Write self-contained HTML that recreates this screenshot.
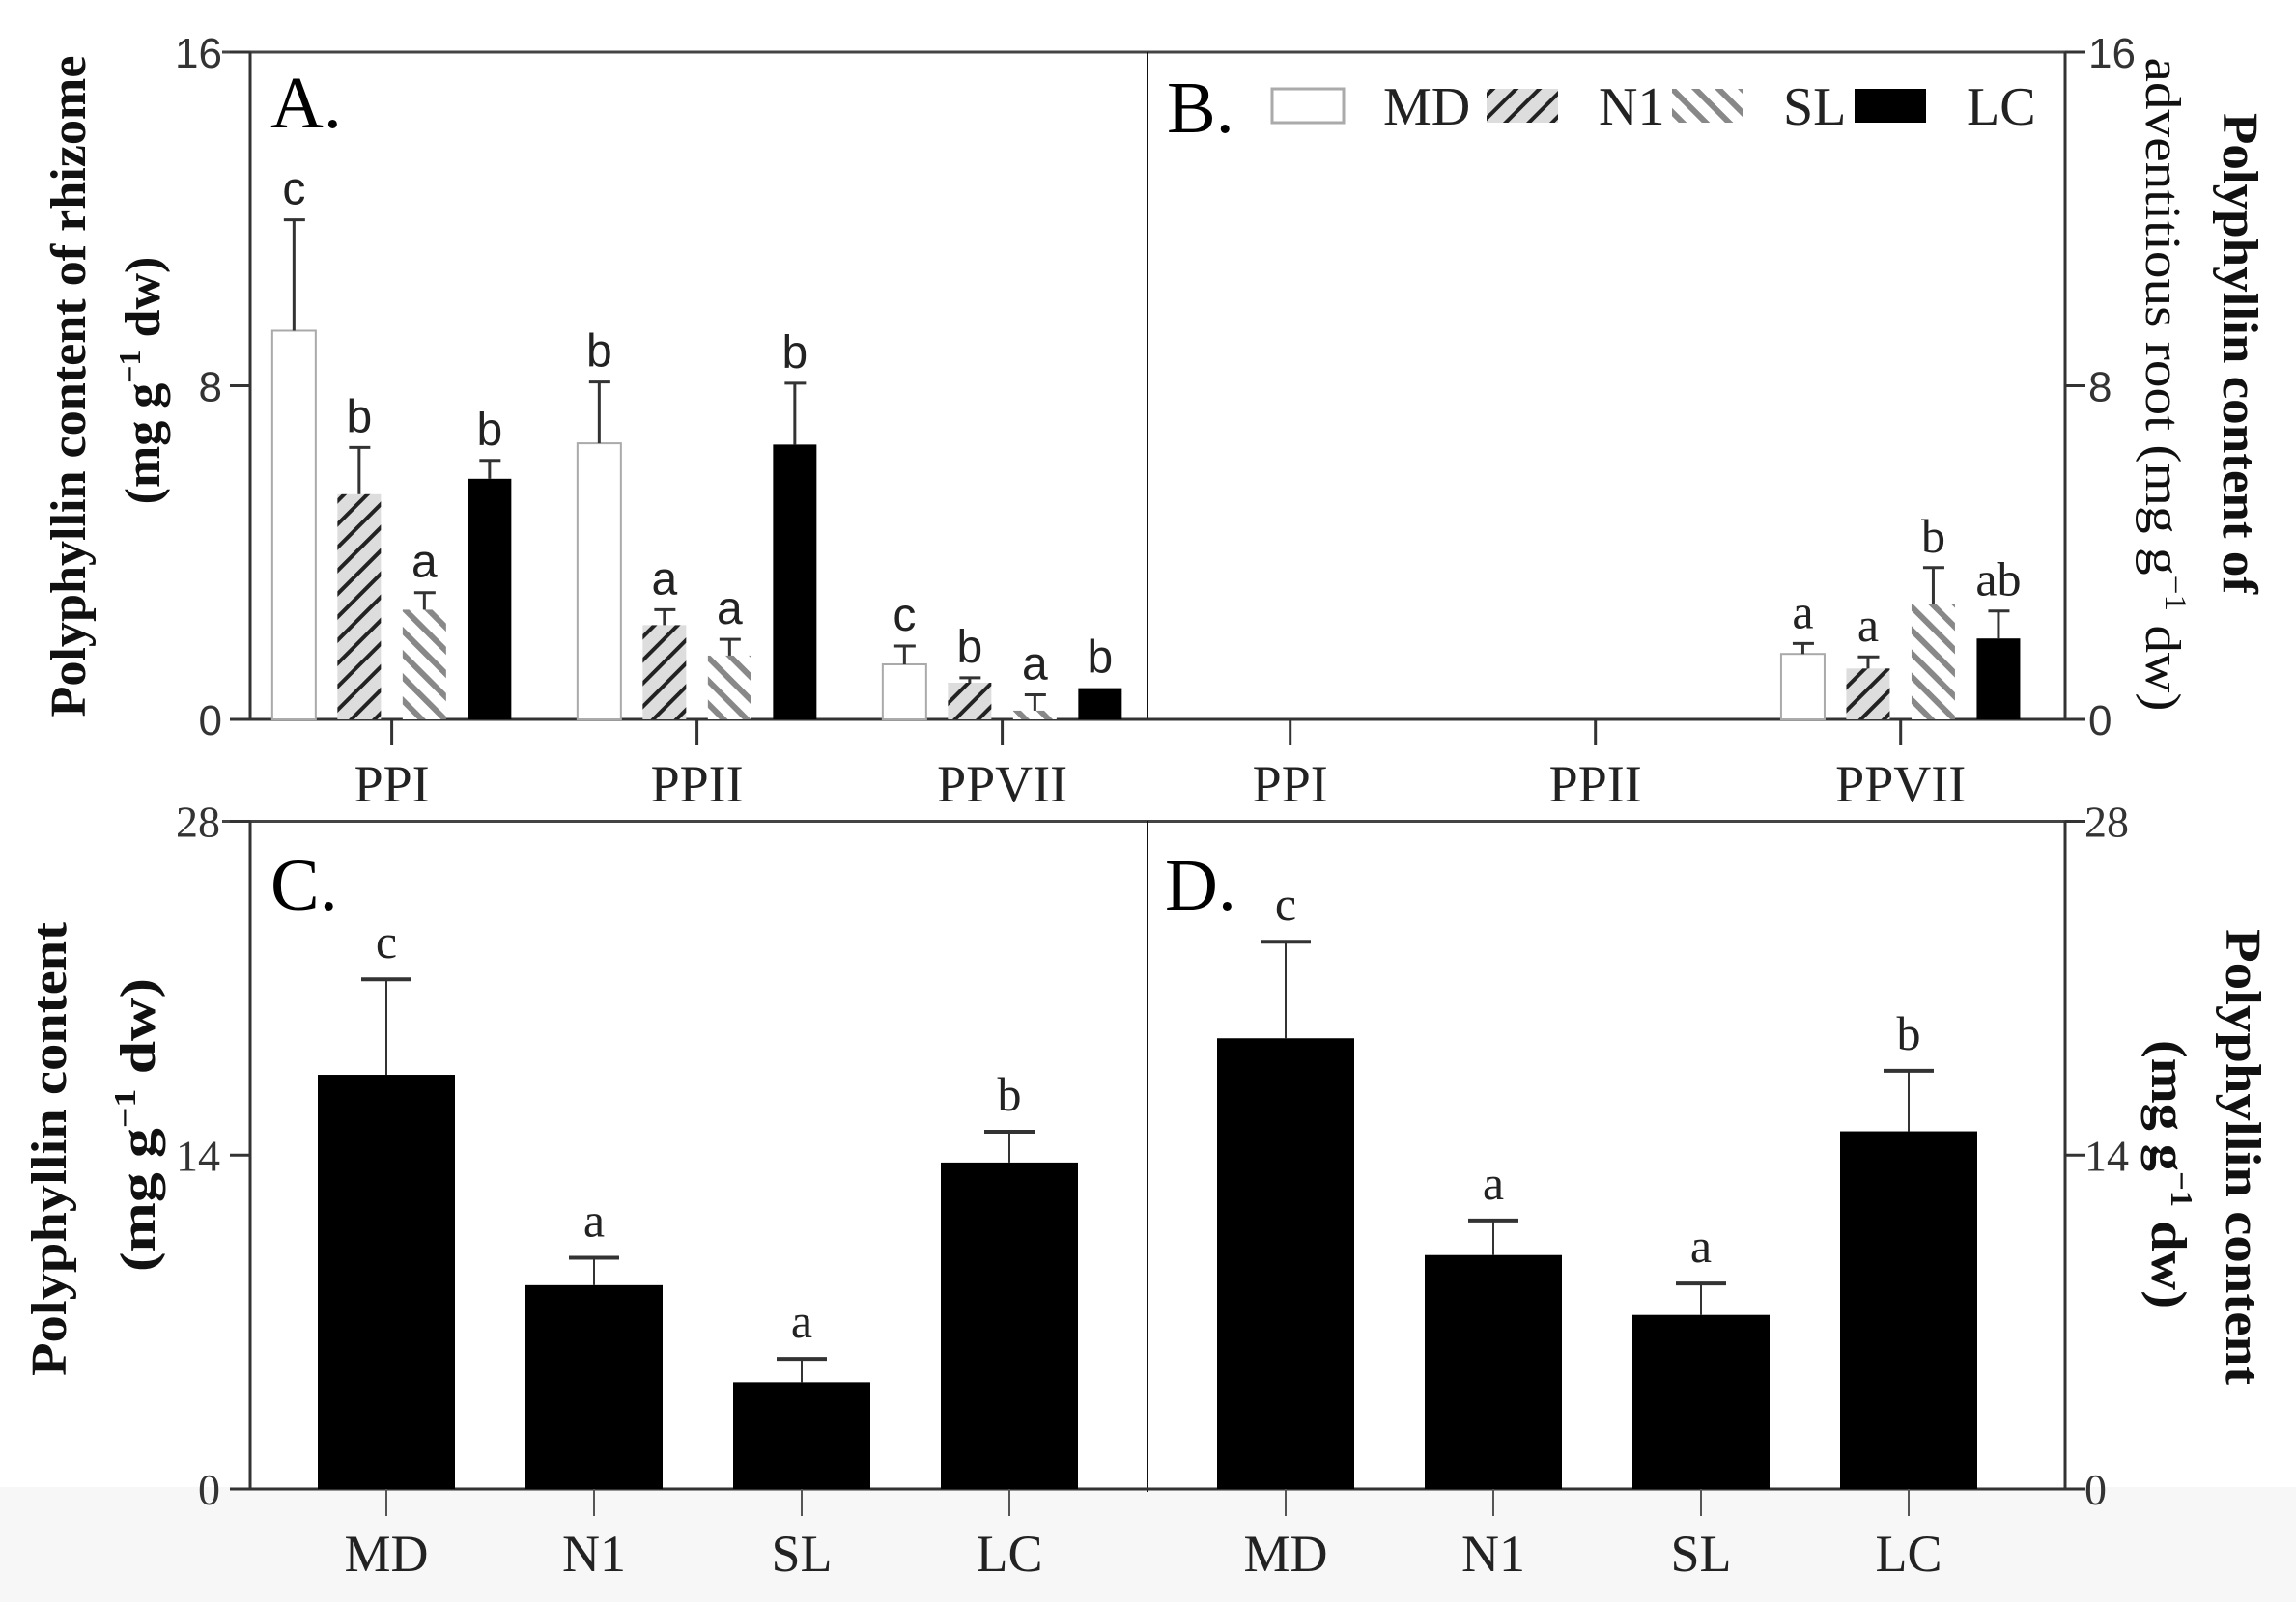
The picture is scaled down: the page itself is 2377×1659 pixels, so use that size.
<!DOCTYPE html>
<html><head><meta charset="utf-8"><style>
html,body{margin:0;padding:0;background:#fff;}
svg{display:block;}
.tk{font-family:"Liberation Sans",sans-serif;font-size:44px;fill:#333;}
.tks{font-family:"Liberation Serif",serif;font-size:46px;fill:#333;}
.cat{font-family:"Liberation Serif",serif;font-size:54px;fill:#222;}
.ttl{font-family:"Liberation Serif",serif;font-size:52px;font-weight:bold;fill:#111;}
.ttln{font-family:"Liberation Serif",serif;font-size:52px;fill:#111;}
.pl{font-family:"Liberation Serif",serif;font-size:76px;fill:#000;}
.lg{font-family:"Liberation Serif",serif;font-size:56px;fill:#222;}
.sa{font-family:"Liberation Sans",sans-serif;font-size:48px;fill:#222;}
.se{font-family:"Liberation Serif",serif;font-size:50px;fill:#222;}
</style></head><body>
<svg id="fig" width="2377" height="1659" viewBox="0 0 2377 1659" xmlns="http://www.w3.org/2000/svg">
<defs>
<pattern id="hN1" patternUnits="userSpaceOnUse" width="17" height="17" patternTransform="rotate(45)">
<rect width="17" height="17" fill="#ddd"/><rect x="0" y="0" width="4" height="17" fill="#222"/></pattern>
<pattern id="hSL" patternUnits="userSpaceOnUse" width="17" height="17" patternTransform="rotate(-45)">
<rect width="17" height="17" fill="#fff"/><rect x="0" y="0" width="6" height="17" fill="#888"/></pattern>
</defs>
<rect x="0" y="1540" width="2377" height="119" fill="#f7f7f7"/>
<g id="g"></g>
</svg>
<script>
// ---- Data ----
const groupsTop = ["PPI","PPII","PPVII"];
const treatments = ["MD","N1","SL","LC"];
const A_MD = [9.32, 6.62, 1.32];
const A_N1 = [5.40, 2.26, 0.88];
const A_SL = [2.63, 1.53, 0.21];
const A_LC = [5.77, 6.59, 0.75];
const A_MD_err = [2.66, 1.47, 0.44];
const A_N1_err = [1.12, 0.37, 0.12];
const A_SL_err = [0.41, 0.39, 0.38];
const A_LC_err = [0.44, 1.47, 0];
const A_MD_lab = ["c","b","c"];
const A_N1_lab = ["b","a","b"];
const A_SL_lab = ["a","a","a"];
const A_LC_lab = ["b","b","b"];
const B_MD = [0, 0, 1.57];
const B_N1 = [0, 0, 1.22];
const B_SL = [0, 0, 2.76];
const B_LC = [0, 0, 1.94];
const B_MD_err = [0, 0, 0.25];
const B_N1_err = [0, 0, 0.28];
const B_SL_err = [0, 0, 0.88];
const B_LC_err = [0, 0, 0.66];
const B_MD_lab = ["","","a"];
const B_N1_lab = ["","","a"];
const B_SL_lab = ["","","b"];
const B_LC_lab = ["","","ab"];
const C_vals = [17.37, 8.55, 4.48, 13.69];
const C_err = [4.0, 1.15, 0.98, 1.29];
const C_lab = ["c","a","a","b"];
const D_vals = [18.9, 9.81, 7.30, 15.0];
const D_err = [4.05, 1.45, 1.32, 2.54];
const D_lab = ["c","a","a","b"];
const topTicks = [0, 8, 16];
const botTicks = [0, 14, 28];

// ---- helpers ----
const NS="http://www.w3.org/2000/svg";
const G=document.getElementById('g');
function mk(tag,attrs,parent){const e=document.createElementNS(NS,tag);for(const k in attrs)e.setAttribute(k,attrs[k]);(parent||G).appendChild(e);return e;}
function txt(s,x,y,cls,anchor,name,tr){const t=mk('text',{x:x,y:y,'class':cls,'text-anchor':anchor||'middle'});if(tr)t.setAttribute('transform',tr);t.textContent=s;


return t;}
function line(x1,y1,x2,y2,w,c,name){const l=mk('line',{x1:x1,y1:y1,x2:x2,y2:y2,stroke:c||'#333','stroke-width':w||3});


return l;}

const yTop=v=>745-(v/16)*(745-54);
const yBot=v=>1542-(v/28)*(1542-850.5);
const fills={MD:'#fff',N1:'url(#hN1)',SL:'url(#hSL)',LC:'#000'};
const strokes={MD:'#aaa',N1:'none',SL:'none',LC:'none'};

// ---- frames ----
line(230,54,2138,54,3,'#444','top-axis-line-top');
line(259,54,259,745,3,'#333','panel-a-y-axis');
line(1188,54,1188,745,2,'#111','divider-top');
line(2138,54,2138,745,3,'#333','panel-b-y-axis');
line(259,745,2138,745,3,'#333','x-axis-top');
line(230,850.5,2138,850.5,3,'#444','top-axis-line-bottom');
line(259,850,259,1542,3,'#333','panel-c-y-axis');
line(1188,850,1188,1545,2,'#111','divider-bottom');
line(2138,850,2138,1542,3,'#333','panel-d-y-axis');
line(259,1542,2138,1542,3,'#333','x-axis-bottom');

topTicks.forEach(v=>{const y=yTop(v);
 line(238,y,259,y,3,'#333','panel-a-tick');
 line(2138,y,2159,y,3,'#333','panel-b-tick');
 txt(String(v),230,y+16,'tk','end','panel-a-tick-label');
 txt(String(v),2162,y+16,'tk','start','panel-b-tick-label');
});
botTicks.forEach(v=>{const y=yBot(v);
 line(238,y,259,y,3,'#333','panel-c-tick');
 line(2138,y,2159,y,3,'#333','panel-d-tick');
 txt(String(v),228,y+16,'tks','end','panel-c-tick-label');
 txt(String(v),2158,y+16,'tks','start','panel-d-tick-label');
});

// ---- top panels ----
function topPanel(x0,data,errs,labs,labCls,pfx){
 groupsTop.forEach((gname,i)=>{
  const cx=x0+316*i;
  line(cx,745,cx,772,3,'#333',pfx+'-x-tick');
  txt(gname,cx,830,'cat','middle',pfx+'-x-label');
  treatments.forEach((t,j)=>{
   const v=data[j][i]; if(v<=0) return;
   const bx=cx+(j-1.5)*67.5-22.5, y=yTop(v);
   const r=mk('rect',{x:bx,y:y,width:45,height:745-y,fill:fills[t],stroke:strokes[t],'stroke-width':2});
   
   
   const e=errs[j][i]; const ye=yTop(v+e);
   if(e>0){line(bx+22.5,ye,bx+22.5,y,3,'#333',pfx+'-error-bar');line(bx+12,ye,bx+34,ye,3,'#333',pfx+'-error-cap');}
   if(labs[j][i]) txt(labs[j][i],bx+22.5,ye-16,labCls,'middle',pfx+'-significance-label');
  });
 });
}
topPanel(405.6,[A_MD,A_N1,A_SL,A_LC],[A_MD_err,A_N1_err,A_SL_err,A_LC_err],[A_MD_lab,A_N1_lab,A_SL_lab,A_LC_lab],'sa','panel-a');
topPanel(1335.7,[B_MD,B_N1,B_SL,B_LC],[B_MD_err,B_N1_err,B_SL_err,B_LC_err],[B_MD_lab,B_N1_lab,B_SL_lab,B_LC_lab],'se','panel-b');

// ---- bottom panels ----
function botPanel(x0,vals,errs,labs,pfx){
 treatments.forEach((t,j)=>{
  const cx=x0+215*j, v=vals[j], y=yBot(v), ye=yBot(v+errs[j]);
  line(cx,1542,cx,1570,2,'#555',pfx+'-x-tick');
  txt(t,cx,1627,'cat','middle',pfx+'-x-label');
  const r=mk('rect',{x:cx-71,y:y,width:142,height:1542-y,fill:'#000'});
  
  
  line(cx,ye,cx,y,2,'#333',pfx+'-error-bar');
  line(cx-26,ye,cx+26,ye,4,'#333',pfx+'-error-cap');
  txt(labs[j],cx,ye-22,'se','middle',pfx+'-significance-label');
 });
}
botPanel(400,C_vals,C_err,C_lab,'panel-c');
botPanel(1331,D_vals,D_err,D_lab,'panel-d');

// ---- panel letters ----
txt('A.',280,132,'pl','start','panel-a-label');
txt('B.',1208,137,'pl','start','panel-b-label');
txt('C.',280,942,'pl','start','panel-c-label');
txt('D.',1206,942,'pl','start','panel-d-label');

// ---- legend ----
const legX=[1317,1539,1731,1920], legT=[1432,1655,1846,2036];
treatments.forEach((t,j)=>{
 const r=mk('rect',{x:legX[j],y:92,width:74,height:35,fill:fills[t],stroke:strokes[t],'stroke-width':3});
 
 
 txt(t,legT[j],129,'lg','start','legend-label-'+t.toLowerCase());
});
</script>
<svg style="position:absolute;left:0;top:0" width="2377" height="1659">
<text class="ttl" transform="translate(88,400) rotate(-90)" text-anchor="middle" textLength="685" lengthAdjust="spacingAndGlyphs">Polyphyllin content of rhizome</text>
<text class="ttl" transform="translate(165,394) rotate(-90)" text-anchor="middle">(mg g<tspan dy="-20" font-size="32">−1</tspan><tspan dy="20"> dw)</tspan></text>
<text class="ttl" transform="translate(2302,366) rotate(90)" text-anchor="middle" textLength="498" lengthAdjust="spacingAndGlyphs">Polyphyllin content of</text>
<text class="ttln" transform="translate(2222,398) rotate(90)" text-anchor="middle" textLength="677" lengthAdjust="spacingAndGlyphs">adventitious root  (mg g<tspan dy="-20" font-size="32">−1</tspan><tspan dy="20"> dw)</tspan></text>
<text class="ttl" transform="translate(68,1190) rotate(-90)" text-anchor="middle" textLength="470" lengthAdjust="spacingAndGlyphs">Polyphyllin content</text>
<text class="ttl" transform="translate(160,1165) rotate(-90)" text-anchor="middle" textLength="304" lengthAdjust="spacingAndGlyphs">(mg g<tspan dy="-20" font-size="32">−1</tspan><tspan dy="20"> dw)</tspan></text>
<text class="ttl" transform="translate(2305,1198) rotate(90)" text-anchor="middle" textLength="472" lengthAdjust="spacingAndGlyphs">Polyphyllin content</text>
<text class="ttl" transform="translate(2228,1216) rotate(90)" text-anchor="middle" textLength="278" lengthAdjust="spacingAndGlyphs">(mg g<tspan dy="-20" font-size="32">−1</tspan><tspan dy="20"> dw)</tspan></text>
</svg>
</body></html>
